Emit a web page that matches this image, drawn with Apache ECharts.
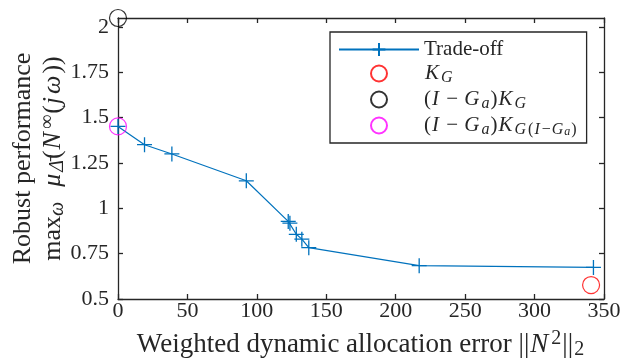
<!DOCTYPE html>
<html>
<head>
<meta charset="utf-8">
<script src="https://cdn.jsdelivr.net/npm/echarts@6/dist/echarts.min.js"></script>
<style>
  html, body { margin: 0; padding: 0; background: #fff; }
  #chart { width: 623px; height: 360px; }
</style>
</head>
<body>
<div id="chart"></div>
<script>
// Trade-off curve: allocation error vs. robust performance
const tradeX = [0, 19.1, 38.8, 92.4, 122.6, 123.8, 128.4, 132.4, 137.4, 216.9, 342.4];
const tradeY = [1.452, 1.351, 1.300, 1.152, 0.928, 0.918, 0.857, 0.830, 0.783, 0.684, 0.674];

// Single controller designs
const kgPoint = [340.7, 0.577];
const kgFilteredPoint = [0, 2.05];
const kgRedesignPoint = [0, 1.452];

// Axis ticks
const xTicks = [0, 50, 100, 150, 200, 250, 300, 350];
const yTicks = [0.5, 0.75, 1, 1.25, 1.5, 1.75, 2];

const FONT = 'Liberation Serif';
const INK = '#262626';
const BLUE = '#0072BD';
const PLUS = 'path://M8,0V16M0,8H16';

const chart = echarts.init(document.getElementById('chart'), null, { renderer: 'canvas' });

// Rich-text styles for inline math: upright, italic, subscripts and superscripts
function mathRich(size) {
  const small = Math.round(size * 0.75);
  const tiny = Math.round(size * 0.58);
  const base = { fontFamily: FONT, color: INK };
  return {
    n: Object.assign({}, base, { fontSize: size, lineHeight: size + 4, verticalAlign: 'middle' }),
    i: Object.assign({}, base, { fontSize: size, fontStyle: 'italic', lineHeight: size + 4, verticalAlign: 'middle', padding: [0, 2, 0, 1] }),
    s: Object.assign({}, base, { fontSize: small, fontStyle: 'italic', lineHeight: small, verticalAlign: 'bottom', padding: [0, 1, 0, 0] }),
    su: Object.assign({}, base, { fontSize: small, lineHeight: small, verticalAlign: 'bottom', padding: [0, 1, 0, 1] }),
    p: Object.assign({}, base, { fontSize: small, lineHeight: small, verticalAlign: 'top', padding: [0, 1, 0, 1] }),
    ss: Object.assign({}, base, { fontSize: tiny, fontStyle: 'italic', lineHeight: tiny - 4, verticalAlign: 'bottom' })
  };
}

const legendLabels = {
  'Trade-off': '{n|Trade-off}',
  'KG': '{i|K}{s|G}',
  'IGaKG': '{n|(}{i|I}{n| − }{i|G}{s|a}{n|)}{i|K}{s|G}',
  'IGaKGIGa': '{n|(}{i|I}{n| − }{i|G}{s|a}{n|)}{i|K}{s|G}{su|(}{s|I}{su|−}{s|G}{ss|a}{su|)}'
};

const xName = '{n|Weighted dynamic allocation error ||}{i|N}{p|2}{n|||}{su|2}';
const yName = '{n|Robust performance}\n{n|max}{s|ω}{n|  }{i|μ}{s|Δ̄}{n|(}{i|N}{p|∞}{n|(}{i|j}{i|ω}{n|))}';

function mirrorAxis(extra) {
  return Object.assign({
    type: 'value',
    axisLine: { show: true, onZero: false, lineStyle: { color: INK, width: 1.3 } },
    axisLabel: { show: false },
    splitLine: { show: false }
  }, extra);
}

const option = {
  backgroundColor: '#fff',
  animation: false,
  grid: { left: 118, right: 19, top: 18, bottom: 61, containLabel: false, outerBoundsMode: 'none' },
  xAxis: [
    {
      type: 'value', min: 0, max: 350, interval: 50,
      name: xName, nameLocation: 'middle', nameGap: 30, nameMoveOverlap: false,
      nameTextStyle: { rich: mathRich(27), verticalAlign: 'top' },
      axisLine: { show: true, onZero: false, lineStyle: { color: INK, width: 1.3 } },
      axisTick: { show: true, inside: true, length: 5, lineStyle: { color: INK, width: 1.3 }, customValues: xTicks },
      axisLabel: { fontFamily: FONT, fontSize: 22, color: INK, margin: 1, customValues: xTicks },
      splitLine: { show: false }
    },
    mirrorAxis({ position: 'top', min: 0, max: 350, interval: 50, axisTick: { show: true, inside: true, length: 5, lineStyle: { color: INK, width: 1.3 }, customValues: xTicks } })
  ],
  yAxis: [
    {
      type: 'value', min: 0.5, max: 2.05, interval: 0.25,
      name: yName, nameLocation: 'middle', nameGap: 80, nameMoveOverlap: false,
      nameTextStyle: { rich: mathRich(26), align: 'center', verticalAlign: 'middle' },
      axisLine: { show: true, onZero: false, lineStyle: { color: INK, width: 1.3 } },
      axisTick: { show: true, inside: true, length: 5, lineStyle: { color: INK, width: 1.3 }, customValues: yTicks },
      axisLabel: { fontFamily: FONT, fontSize: 22, color: INK, margin: 9, customValues: yTicks },
      splitLine: { show: false }
    },
    mirrorAxis({ position: 'right', min: 0.5, max: 2.05, interval: 0.25, axisTick: { show: true, inside: true, length: 5, lineStyle: { color: INK, width: 1.3 }, customValues: yTicks } })
  ],
  legend: {
    orient: 'vertical',
    left: 330, top: 32,
    padding: [7, 9, 5, 8],
    backgroundColor: '#fff',
    borderColor: INK, borderWidth: 1.3,
    itemWidth: 80, itemHeight: 16, itemGap: 3,
    data: ['Trade-off', 'KG', 'IGaKG', 'IGaKGIGa'],
    formatter: (name) => legendLabels[name],
    textStyle: { rich: mathRich(21), padding: [0, 0, 0, 0] }
  },
  series: [
    {
      name: 'Trade-off', type: 'line',
      data: tradeX.map((x, k) => [x, tradeY[k]]),
      symbol: PLUS, symbolSize: 15, showSymbol: true, clip: false,
      lineStyle: { color: BLUE, width: 1.2 },
      itemStyle: { color: 'transparent', borderColor: BLUE, borderWidth: 1.3 },
      z: 3
    },
    {
      name: 'KG', type: 'scatter', data: [kgPoint],
      symbol: 'circle', symbolSize: 17, clip: false,
      itemStyle: { color: 'transparent', borderColor: '#ff0000', borderWidth: 1.2 }, z: 4
    },
    {
      name: 'IGaKG', type: 'scatter', data: [kgFilteredPoint],
      symbol: 'circle', symbolSize: 17, clip: false,
      itemStyle: { color: 'transparent', borderColor: '#000000', borderWidth: 1.2 }, z: 4
    },
    {
      name: 'IGaKGIGa', type: 'scatter', data: [kgRedesignPoint],
      symbol: 'circle', symbolSize: 17, clip: false,
      itemStyle: { color: 'transparent', borderColor: '#ff00ff', borderWidth: 1.2 }, z: 4
    }
  ]
};

chart.setOption(option);
</script>
</body>
</html>
